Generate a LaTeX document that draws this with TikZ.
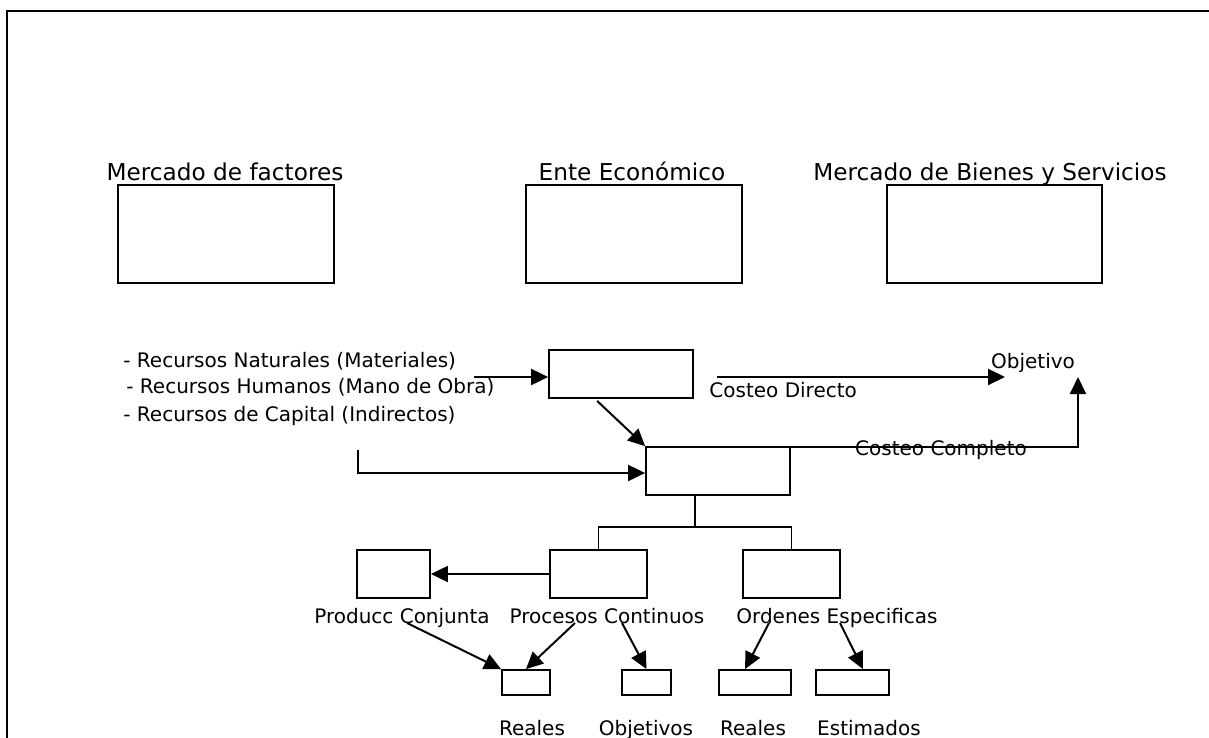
\documentclass[tikz,border=0pt]{standalone}
\usepackage{fontspec}
\setmainfont{DejaVu Sans}
\usetikzlibrary{arrows.meta,calc}
\begin{document}
\begin{tikzpicture}[x=0.5pt, y=-0.5pt,
   caja/.style = {draw, line width=0.9pt, inner sep=0pt},
   linea/.style = {line width=0.9pt},
   flecha/.style = {line width=1pt, -{Triangle[length=8.5pt, width=8pt]}},
   titulo/.style = {font=\fontsize{11.6}{14}\selectfont, anchor=base, inner sep=0pt},
   etiq/.style = {font=\fontsize{10}{12}\selectfont, anchor=base, inner sep=0pt}]
\useasboundingbox (0,0) rectangle (1209,738);
\draw[line width=1.1pt] (7,738) -- (7,11) -- (1209,11);

% mercados
\node[caja, minimum width=108pt, minimum height=49pt] (mf) at (226,234) {};
\node[caja, minimum width=108pt, minimum height=49pt] (ee) at (634,234) {};
\node[caja, minimum width=107.5pt, minimum height=49pt] (mb) at (994.5,234) {};
\node[titulo] (tmf) at (225,180) {Mercado de factores};
\node[titulo] (tee) at (632,180) {Ente Económico};
\node[titulo] (tmb) at (990,180) {Mercado de Bienes y Servicios};

% recursos
\node[etiq, anchor=base west] (rn) at (123,367) {- Recursos Naturales (Materiales)};
\node[etiq, anchor=base west] (rh) at (126,393) {- Recursos Humanos (Mano de Obra)};
\node[etiq, anchor=base west] (rc) at (123,421) {- Recursos de Capital (Indirectos)};

\node[caja, minimum width=72pt, minimum height=24pt] (A) at (621,374) {};
\node[caja, minimum width=72pt, minimum height=24pt] (B) at (718,471) {};

\coordinate (entA) at (474,377);
\coordinate (entB) at (358,450);
\draw[flecha] (entA) -- (entA -| A.west);
\draw[flecha] ($(A.south west)+(49,2)$) -- (B.north west);
\draw[flecha] (entB) |- ($(B.west)+(0,2)$);

% costeo
\coordinate (cd1) at (717,377);
\coordinate (cd2) at (1005,377);
\coordinate (cc) at (1078,377);
\draw[flecha] (cd1) -- (cd2);
\node[etiq, anchor=base west] (tcd) at (709,397) {Costeo Directo};
\node[etiq] (obj) at (1033,368) {Objetivo};
\draw[flecha] ($(B.north east)+(0,1)$) -| (cc);
\node[etiq] (tcc) at (941,455) {Costeo Completo};

% sistemas
\node[caja, minimum width=36.5pt, minimum height=24pt] (PJ) at (393.5,574) {};
\node[caja, minimum width=48.5pt, minimum height=24pt] (PC) at (598.5,574) {};
\node[caja, minimum width=48.5pt, minimum height=24pt] (OE) at (791.5,574) {};
\coordinate (rama) at (695,527);
\draw[linea] (B.south -| rama) -- (rama);
\draw[linea] (PC.north) |- (rama) -| (OE.north);
\draw[flecha] (PC.west) -- (PJ.east);
\node[etiq] (lpj) at (402,623) {Producc Conjunta};
\node[etiq] (lpc) at (607,623) {Procesos Continuos};
\node[etiq] (loe) at (837,623) {Ordenes Especificas};

% costos
\node[caja, minimum width=24pt, minimum height=12.5pt] (R1) at (526,682.5) {};
\node[caja, minimum width=24.5pt, minimum height=12.5pt] (OB) at (646.5,682.5) {};
\node[caja, minimum width=36pt, minimum height=12.5pt] (R2) at (755,682.5) {};
\node[caja, minimum width=36.5pt, minimum height=12.5pt] (ES) at (852.5,682.5) {};
\draw[flecha] ($(lpj.base)+(5,0)$) -- (R1.north west);
\draw[flecha] ($(lpc.base)+(-32,0)$) -- (R1.north);
\draw[flecha] ($(lpc.base)+(15,0)$) -- (OB.north);
\draw[flecha] ($(loe.base)+(-68,0)$) -- ($(R2.north)+(-10,0)$);
\draw[flecha] ($(loe.base)+(3,0)$) -- ($(ES.north)+(10.5,0)$);
\node[etiq] (lr1) at (532,735) {Reales};
\node[etiq] (lob) at (646,735) {Objetivos};
\node[etiq] (lr2) at (753,735) {Reales};
\node[etiq] (les) at (869,735) {Estimados};
\end{tikzpicture}
\end{document}
